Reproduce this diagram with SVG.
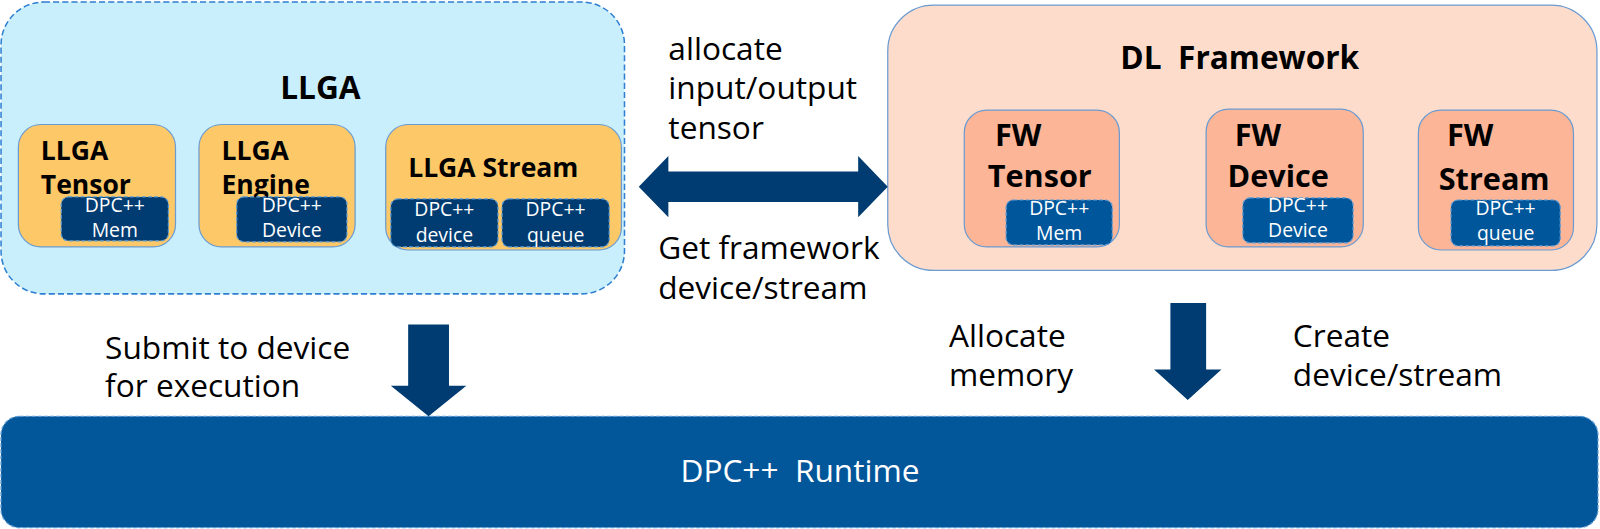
<svg xmlns="http://www.w3.org/2000/svg" width="1600" height="529" viewBox="0 0 1600 529">
<defs>
<style>
.t{font-family:"Open Sans","Noto Sans","DejaVu Sans",sans-serif;fill:#000}
.b{font-weight:bold}
.w{fill:#fff}
.s{font-size:19px}
.dk{fill:#003c71;stroke:#5b9bd5;stroke-width:1.2;stroke-dasharray:4 2}
.md{fill:#00569a;stroke:#5b9bd5;stroke-width:1.2;stroke-dasharray:4 2}
.or{fill:#fdc868;stroke:#6a9bd1;stroke-width:1.2}
.sa{fill:#fcb597;stroke:#6a9bd1;stroke-width:1.2}
.arr{fill:#003c71}
</style>
</defs>
<rect width="1600" height="529" fill="#fff"/>
<g transform="scale(1.020408)">
<g id="llga">
<rect x="1" y="2" width="611" height="286" rx="42" fill="#c9effd" stroke="#2e7fd0" stroke-width="1.5" stroke-dasharray="6 3"/>
<text class="t b" x="314" y="97" font-size="31" text-anchor="middle">LLGA</text>
</g>
<g id="llga-tensor">
<rect class="or" x="18" y="122" width="154" height="120" rx="22"/>
<text class="t b" x="40" y="157" font-size="26">LLGA</text>
<text class="t b" x="40" y="190" font-size="26">Tensor</text>
<rect class="dk" x="60" y="193" width="105" height="43" rx="7"/>
<text class="t w s" x="112.5" y="208" text-anchor="middle">DPC++</text>
<text class="t w s" x="112.5" y="232" text-anchor="middle">Mem</text>
</g>
<g id="llga-engine">
<rect class="or" x="195" y="122" width="153" height="120" rx="22"/>
<text class="t b" x="217" y="157" font-size="26">LLGA</text>
<text class="t b" x="217" y="190" font-size="26">Engine</text>
<rect class="dk" x="232" y="193" width="108" height="44" rx="7"/>
<text class="t w s" x="286" y="208" text-anchor="middle">DPC++</text>
<text class="t w s" x="286" y="232" text-anchor="middle">Device</text>
</g>
<g id="llga-stream">
<rect class="or" x="378" y="122" width="231" height="123" rx="22"/>
<text class="t b" x="400" y="173" font-size="26">LLGA Stream</text>
<rect class="dk" x="383" y="195" width="105" height="47" rx="7"/>
<text class="t w s" x="435.5" y="212" text-anchor="middle">DPC++</text>
<text class="t w s" x="435.5" y="237" text-anchor="middle">device</text>
<rect class="dk" x="492" y="195" width="105" height="47" rx="7"/>
<text class="t w s" x="544.5" y="212" text-anchor="middle">DPC++</text>
<text class="t w s" x="544.5" y="237" text-anchor="middle">queue</text>
</g>
<g id="dl-framework">
<rect x="870" y="5" width="695" height="260" rx="45" fill="#fedccc" stroke="#6a9bd1" stroke-width="1.2"/>
<text class="t b" x="1215" y="68" font-size="31" text-anchor="middle" xml:space="preserve">DL  Framework</text>
</g>
<g id="fw-tensor">
<rect class="sa" x="945" y="108" width="152" height="134" rx="22"/>
<text class="t b" x="975" y="143" font-size="30">FW</text>
<text class="t b" x="968" y="183" font-size="30">Tensor</text>
<rect class="md" x="986" y="196" width="104" height="44" rx="7"/>
<text class="t w s" x="1038" y="211" text-anchor="middle">DPC++</text>
<text class="t w s" x="1038" y="235" text-anchor="middle">Mem</text>
</g>
<g id="fw-device">
<rect class="sa" x="1182" y="107" width="154" height="135" rx="22"/>
<text class="t b" x="1210" y="143" font-size="30">FW</text>
<text class="t b" x="1203" y="183" font-size="30">Device</text>
<rect class="md" x="1218" y="194" width="108" height="44" rx="7"/>
<text class="t w s" x="1272" y="208" text-anchor="middle">DPC++</text>
<text class="t w s" x="1272" y="232" text-anchor="middle">Device</text>
</g>
<g id="fw-stream">
<rect class="sa" x="1390" y="108" width="152" height="137" rx="22"/>
<text class="t b" x="1418" y="143" font-size="30">FW</text>
<text class="t b" x="1410" y="186" font-size="30">Stream</text>
<rect class="md" x="1422" y="196" width="107" height="45" rx="7"/>
<text class="t w s" x="1475.5" y="211" text-anchor="middle">DPC++</text>
<text class="t w s" x="1475.5" y="235" text-anchor="middle">queue</text>
</g>
<g id="runtime">
<rect x="1" y="408" width="1565" height="109" rx="18" fill="#02569a" stroke="#5b9bd5" stroke-width="1.2" stroke-dasharray="4 2"/>
<text class="t w" x="784" y="472" font-size="31" text-anchor="middle" xml:space="preserve">DPC++  Runtime</text>
</g>
<g id="connectors">
<path class="arr" d="M626 183 L655 153 L655 168 L841 168 L841 153 L870 183 L841 213 L841 198 L655 198 L655 213 Z"/>
<path class="arr" d="M400 318 L440 318 L440 378 L457 378 L420 408 L383 378 L400 378 Z"/>
<path class="arr" d="M1147 297 L1182 297 L1182 362 L1197 362 L1164 392 L1131 362 L1147 362 Z"/>
</g>
<g id="labels">
<text class="t" x="655" y="59" font-size="31">allocate</text>
<text class="t" x="655" y="97" font-size="31">input/output</text>
<text class="t" x="655" y="136" font-size="31">tensor</text>
<text class="t" x="645" y="254" font-size="31">Get framework</text>
<text class="t" x="645" y="293" font-size="31">device/stream</text>
<text class="t" x="103" y="352" font-size="31">Submit to device</text>
<text class="t" x="103" y="389" font-size="31">for execution</text>
<text class="t" x="930" y="340" font-size="31">Allocate</text>
<text class="t" x="930" y="378" font-size="31">memory</text>
<text class="t" x="1267" y="340" font-size="31">Create</text>
<text class="t" x="1267" y="378" font-size="31">device/stream</text>
</g>
</g>
</svg>
